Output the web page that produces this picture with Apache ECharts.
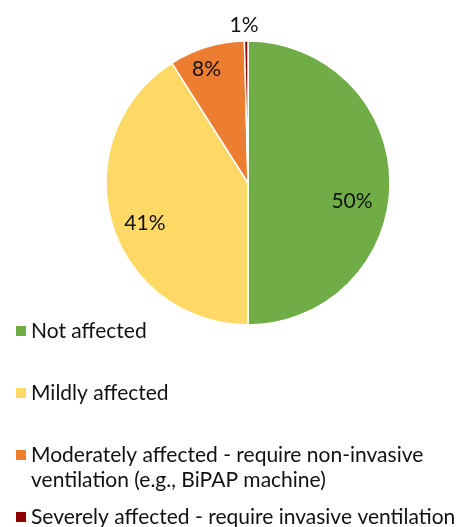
<!DOCTYPE html>
<html>
<head>
<meta charset="utf-8">
<script src="https://cdn.jsdelivr.net/npm/echarts@6/dist/echarts.min.js"></script>
<style>
  html, body { margin: 0; padding: 0; background: #fff; }
  #chart { width: 464px; height: 527px; }
</style>
</head>
<body>
<div id="chart"></div>
<script>
// chart data
const categories = [
  'Not affected',
  'Mildly affected',
  'Moderately affected - require non-invasive ventilation (e.g., BiPAP machine)',
  'Severely affected - require invasive ventilation'
];
const values = [50, 41, 8.6, 0.4];
const valueLabels = ['50%', '41%', '8%', '1%'];
const colors = ['#70AD47', '#FFD966', '#ED7D31', '#8B0000'];

// the long legend entry wraps onto a second line that sits in the item gap
const wrappedFirst = 'Moderately affected - require non-invasive';
const wrappedSecond = 'ventilation (e.g., BiPAP machine)';

// per-slice label nudges (to mimic the best-fit placement)
const labelOffsets = [[30, 18], [-32, 20], [-20, -43], [-3, -84]];

const FONT = 'Lato';
const FONT_SIZE = 21;

function initChart() {
  const chart = echarts.init(document.getElementById('chart'));

  const seriesData = categories.map((name, i) => ({
    name: name,
    value: values[i],
    itemStyle: { color: colors[i] },
    label: { offset: labelOffsets[i] }
  }));

  const option = {
    animation: false,
    legend: {
      orient: 'vertical',
      left: 16,
      top: 319,
      height: 1000,
      padding: 0,
      itemWidth: 10,
      itemHeight: 10,
      itemGap: 38,
      icon: 'rect',
      itemStyle: { borderWidth: 0 },
      selectedMode: false,
      data: categories,
      formatter: function (name) {
        return name === categories[2] ? wrappedFirst : name;
      },
      textStyle: { fontFamily: FONT, fontSize: FONT_SIZE, color: '#111', lineHeight: 24 }
    },
    graphic: [
      {
        type: 'text',
        left: 31,
        top: 468,
        style: {
          text: wrappedSecond,
          fontFamily: FONT,
          fontSize: FONT_SIZE,
          lineHeight: 24,
          fill: '#111'
        }
      }
    ],
    series: [
      {
        type: 'pie',
        center: [248, 183],
        radius: 142,
        startAngle: 90,
        clockwise: true,
        avoidLabelOverlap: false,
        itemStyle: { borderColor: '#fff', borderWidth: 1.5 },
        label: {
          show: true,
          position: 'inside',
          fontFamily: FONT,
          fontSize: FONT_SIZE,
          color: '#111',
          formatter: function (p) { return valueLabels[p.dataIndex]; }
        },
        labelLine: { show: false },
        emphasis: { disabled: true },
        data: seriesData
      }
    ]
  };

  chart.setOption(option);
}

window.addEventListener('DOMContentLoaded', initChart);
</script>
</body>
</html>
